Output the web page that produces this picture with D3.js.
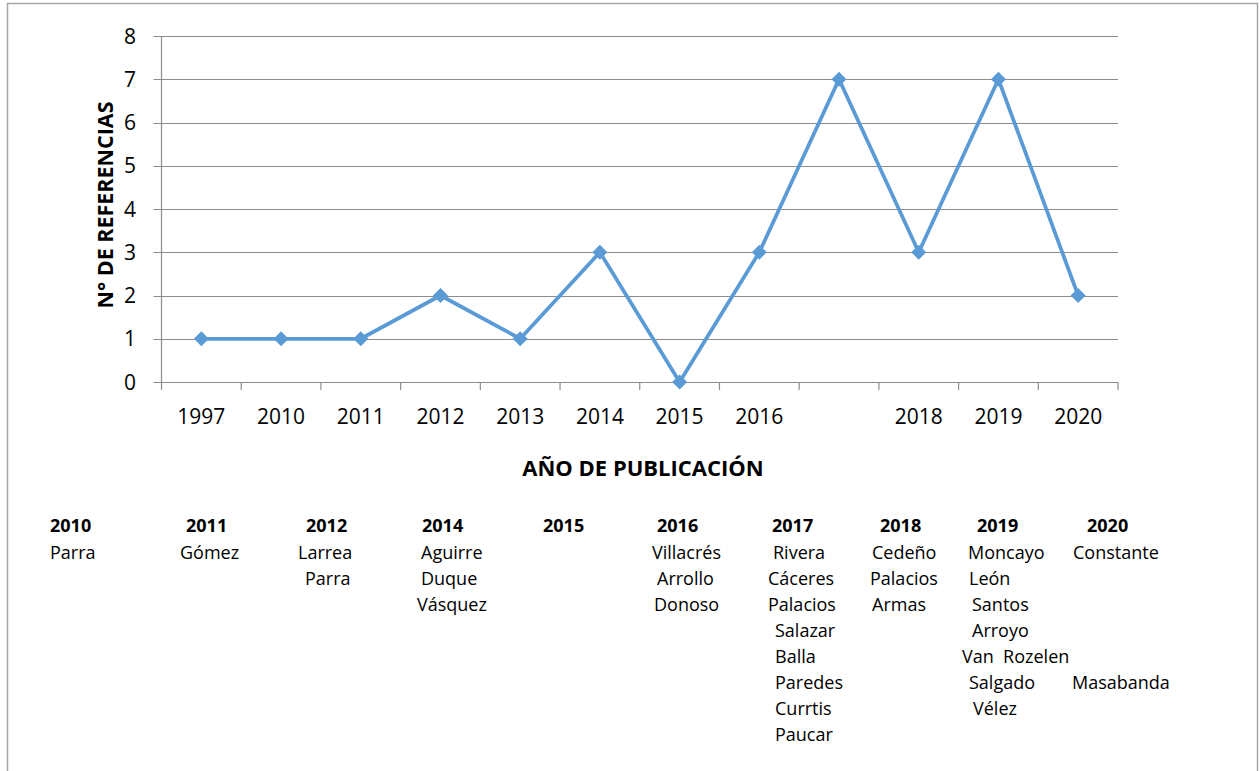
<!DOCTYPE html>
<html>
<head>
<meta charset="utf-8">
<script src="https://cdn.jsdelivr.net/npm/d3@7"></script>
<style>
  body { margin: 0; background: #fff; }
  text { font-family: "Open Sans", "Noto Sans", sans-serif; fill: #000; }
</style>
</head>
<body>
<div id="chart"></div>
<script>
// chart data
var years = ["1997", "2010", "2011", "2012", "2013", "2014", "2015", "2016", "2017", "2018", "2019", "2020"];
var tickLabels = ["1997", "2010", "2011", "2012", "2013", "2014", "2015", "2016", "", "2018", "2019", "2020"];
var refs = [1, 1, 1, 2, 1, 3, 0, 3, 7, 3, 7, 2];
var yTicks = [0, 1, 2, 3, 4, 5, 6, 7, 8];

// table of authors under the chart
var tableYears = ["2010", "2011", "2012", "2014", "2015", "2016", "2017", "2018", "2019", "2020"];
var tableNames = [
  ["Parra"],
  ["Gómez"],
  ["Larrea", "Parra"],
  ["Aguirre", "Duque", "Vásquez"],
  [],
  ["Villacrés", "Arrollo", "Donoso"],
  ["Rivera", "Cáceres", "Palacios", "Salazar", "Balla", "Paredes", "Currtis", "Paucar"],
  ["Cedeño", "Palacios", "Armas"],
  ["Moncayo", "León", "Santos", "Arroyo", "Van  Rozelen", "Salgado", "Vélez"],
  ["Constante", "", "", "", "", "Masabanda"]
];

var W = 1260, H = 771;
var svg = d3.select("#chart").append("svg")
    .attr("width", W)
    .attr("height", H);

// outer frame
svg.append("rect")
    .attr("x", 7.5).attr("y", 3.5)
    .attr("width", 1250).attr("height", 800)
    .attr("fill", "none")
    .attr("stroke", "#a6a6a6")
    .attr("stroke-width", 1.5);

var plot = {left: 161.5, right: 1118, top: 36, bottom: 382};

var x = d3.scaleBand()
    .domain(years)
    .range([plot.left, plot.right]);

var y = d3.scaleLinear()
    .domain([0, 8])
    .range([plot.bottom, plot.top]);

// gridlines
svg.append("g")
  .selectAll("line")
  .data(yTicks)
  .join("line")
    .attr("x1", plot.left - 8)
    .attr("x2", plot.right)
    .attr("y1", function(d) { return Math.round(y(d)) + 0.5; })
    .attr("y2", function(d) { return Math.round(y(d)) + 0.5; })
    .attr("stroke", "#8c8c8c")
    .attr("stroke-width", 1.2);

// y axis line
svg.append("line")
    .attr("x1", plot.left).attr("x2", plot.left)
    .attr("y1", plot.top).attr("y2", plot.bottom)
    .attr("stroke", "#8c8c8c")
    .attr("stroke-width", 1.2);

// y tick labels
svg.append("g")
  .selectAll("text")
  .data(yTicks)
  .join("text")
    .attr("x", 136)
    .attr("y", function(d) { return y(d); })
    .attr("dy", "0.36em")
    .attr("text-anchor", "end")
    .attr("font-size", "21px")
    .text(function(d) { return d; });

// x axis ticks between categories
var xAxis = svg.append("g")
    .attr("transform", "translate(0," + plot.bottom + ")");
xAxis.selectAll("line")
  .data(years)
  .join("line")
    .attr("x1", function(d) { return x(d) + x.bandwidth(); })
    .attr("x2", function(d) { return x(d) + x.bandwidth(); })
    .attr("y1", 0).attr("y2", 8)
    .attr("stroke", "#8c8c8c")
    .attr("stroke-width", 1.2);
xAxis.append("line")
    .attr("x1", plot.left).attr("x2", plot.left)
    .attr("y1", 0).attr("y2", 8)
    .attr("stroke", "#8c8c8c")
    .attr("stroke-width", 1.2);
xAxis.selectAll("text")
  .data(years)
  .join("text")
    .attr("x", function(d) { return x(d) + x.bandwidth() / 2; })
    .attr("y", 42)
    .attr("text-anchor", "middle")
    .attr("font-size", "21px")
    .text(function(d, i) { return tickLabels[i]; });

// axis titles
svg.append("text")
    .attr("x", 643)
    .attr("y", 476)
    .attr("text-anchor", "middle")
    .attr("font-size", "22px")
    .attr("font-weight", "bold")
    .text("AÑO DE PUBLICACIÓN");

svg.append("text")
    .attr("transform", "translate(113,205) rotate(-90)")
    .attr("text-anchor", "middle")
    .attr("font-size", "21.5px")
    .attr("font-weight", "bold")
    .text("N° DE REFERENCIAS");

// the line
var line = d3.line()
    .x(function(d, i) { return x(years[i]) + x.bandwidth() / 2; })
    .y(function(d) { return y(d); });

svg.append("path")
    .datum(refs)
    .attr("d", line)
    .attr("fill", "none")
    .attr("stroke", "#5b9bd5")
    .attr("stroke-width", 3.75)
    .attr("stroke-linejoin", "round");

svg.append("g")
  .selectAll("path")
  .data(refs)
  .join("path")
    .attr("transform", function(d, i) {
      return "translate(" + (x(years[i]) + x.bandwidth() / 2) + "," + y(d) + ")";
    })
    .attr("d", "M0,-7.5L7.5,0L0,7.5L-7.5,0Z")
    .attr("fill", "#5b9bd5");

// authors table
var colHeadX = [50, 186, 306, 422, 543, 657, 772, 880, 977, 1087];
var colNameX = [
  [50],
  [180],
  [298, 305],
  [421, 421, 417],
  [],
  [652, 657, 654],
  [773, 768, 768, 775, 775, 775, 775, 775],
  [872, 870, 872],
  [968, 969, 972, 972, 962, 969, 973],
  [1073, 0, 0, 0, 0, 1072]
];

var table = svg.append("g");
tableYears.forEach(function(yr, c) {
  table.append("text")
      .attr("x", colHeadX[c])
      .attr("y", 532)
      .attr("font-size", "18px")
      .attr("font-weight", "bold")
      .text(yr);
  tableNames[c].forEach(function(n, r) {
    if (!n) return;
    table.append("text")
        .attr("x", colNameX[c][r])
        .attr("y", 559 + r * 26)
        .attr("font-size", "18px")
        .style("white-space", "pre")
        .text(n);
  });
});
</script>
</body>
</html>
